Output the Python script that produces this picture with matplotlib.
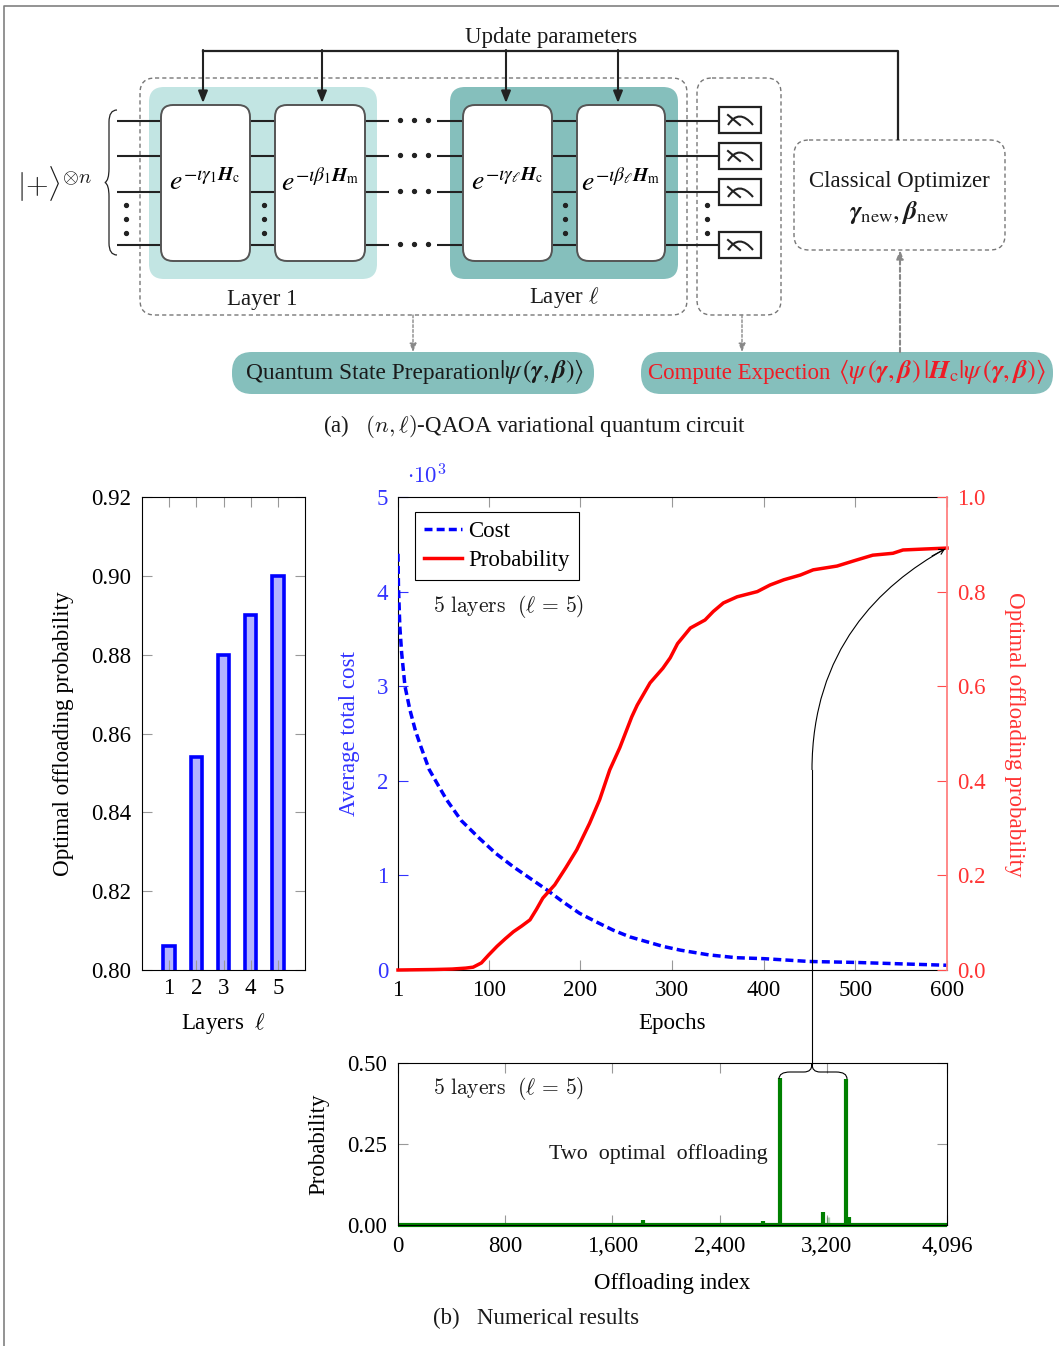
import matplotlib
matplotlib.use("Agg")
import matplotlib.pyplot as plt
from matplotlib.patches import FancyBboxPatch, PathPatch, Rectangle
from matplotlib.path import Path

plt.rcParams["font.family"] = ["Liberation Serif", "DejaVu Serif"]
plt.rcParams["mathtext.fontset"] = "cm"

W, H = 1059, 1346
FS = 16.5
TEAL_LIGHT = "#c2e5e3"
TEAL_DARK = "#85bfbc"
DARK = "#222222"
INK = "#1a1a1a"
DASH_GRAY = "#777777"
TICK_GRAY = "#999999"

# --- Data ---
layers = [1, 2, 3, 4, 5]
layer_prob = [0.806, 0.854, 0.880, 0.890, 0.900]

cost_epochs = [1, 1.5, 3, 5, 8.6, 14, 20, 26, 35, 45, 54, 70, 90, 108, 127, 145, 163, 181, 199, 217, 236,
               254, 272, 290, 309, 340, 370, 400, 450, 500, 550, 600]
cost_values = [4.40, 4.05, 3.63, 3.35, 3.00, 2.75, 2.53, 2.36, 2.12, 1.95, 1.80, 1.58, 1.39, 1.23, 1.09,
               0.97, 0.85, 0.72, 0.60, 0.51, 0.42, 0.35, 0.30, 0.25, 0.21, 0.16, 0.13, 0.12, 0.09, 0.08,
               0.065, 0.05]

prob_epochs = [1, 40, 60, 75, 83, 92, 100, 109, 118, 127, 136, 145, 152, 159, 165, 172, 184, 196, 203, 210,
               221, 232, 243, 256, 262, 276, 290, 298, 306, 320, 336, 345, 356, 371, 393, 407, 422, 440,
               454, 480, 500, 519, 541, 552, 575, 600]
prob_values = [0.0, 0.001, 0.002, 0.004, 0.006, 0.015, 0.032, 0.050, 0.066, 0.081, 0.093, 0.106, 0.128,
               0.152, 0.165, 0.180, 0.216, 0.254, 0.282, 0.310, 0.360, 0.423, 0.470, 0.535, 0.560, 0.607,
               0.638, 0.660, 0.690, 0.723, 0.740, 0.758, 0.776, 0.789, 0.800, 0.814, 0.825, 0.835, 0.846,
               0.854, 0.866, 0.877, 0.881, 0.888, 0.890, 0.892]

offload_index = [1825, 2723, 2850, 3170, 3339, 3368]
offload_prob = [0.015, 0.012, 0.455, 0.040, 0.450, 0.025]
offload_faint_index = [3205]
offload_faint_prob = [0.025]

bar_yticks = [0.80, 0.82, 0.84, 0.86, 0.88, 0.90, 0.92]
main_xticks = [1, 100, 200, 300, 400, 500, 600]
cost_yticks = [0, 1, 2, 3, 4, 5]
prob_yticks = [0.0, 0.2, 0.4, 0.6, 0.8, 1.0]
offload_xticks = [0, 800, 1600, 2400, 3200, 4096]
offload_xlabels = ["0", "800", "1,600", "2,400", "3,200", "4,096"]
offload_yticks = [0.0, 0.25, 0.5]


def px_axes(fig, x0, y0, x1, y1):
    """Axes from pixel corners, y counted from the top of the image."""
    return fig.add_axes([x0 / W, 1 - y1 / H, (x1 - x0) / W, (y1 - y0) / H])


def label_at(axis, ax, px, py, box):
    x0, y0, x1, y1 = box
    axis.label.set_verticalalignment("center")
    axis.set_label_coords((px - x0) / (x1 - x0), (y1 - py) / (y1 - y0), transform=ax.transAxes)


def round_box(ov, x0, y0, x1, y1, r, **kw):
    ov.add_patch(FancyBboxPatch((x0, y0), x1 - x0, y1 - y0,
                                boxstyle=f"round,pad=0,rounding_size={r}", **kw))


def draw_bars(fig):
    box = (142, 497, 305, 970)
    ax = px_axes(fig, *box)
    ax.bar(layers, layer_prob, width=0.42, color="#b3b3ff", edgecolor="#0000ff", linewidth=2.6)
    ax.set_xlim(0, 6)
    ax.set_ylim(0.80, 0.92)
    ax.set_xticks(layers)
    ax.set_yticks(bar_yticks)
    ax.set_yticklabels([f"{v:.2f}" for v in bar_yticks])
    ax.tick_params(direction="in", length=7, width=0.8, color=TICK_GRAY, top=True, right=True,
                   labelsize=FS, pad=8)
    ax.tick_params(axis="x", length=7, pad=6)
    ax.set_xlabel(r"Layers  $\ell$", fontsize=FS)
    ax.set_ylabel("Optimal offloading probability", fontsize=16.7)
    label_at(ax.xaxis, ax, 223, 1024, box)
    label_at(ax.yaxis, ax, 64, 734, box)


def draw_main(fig):
    box = (398, 497, 947, 970)
    ax = px_axes(fig, *box)
    blue = "#0000ff"
    red = "#ff0000"
    line1, = ax.plot(cost_epochs, cost_values, color=blue, lw=2.5, dashes=(2.3, 1.2), label="Cost")
    ax.set_xlim(1, 600)
    ax.set_ylim(0, 5)
    ax.set_xticks(main_xticks)
    ax.set_yticks(cost_yticks)
    ax.tick_params(axis="x", direction="in", length=7, width=0.8, color=TICK_GRAY, top=True,
                   labelsize=FS, pad=7)
    ax.tick_params(axis="y", direction="in", length=7, width=0.8, color="#3333ff", labelcolor="#3333ff",
                   labelsize=FS, pad=7)
    ax.set_xlabel("Epochs", fontsize=FS)
    ax.set_ylabel("Average total cost", fontsize=FS, color="#3333ff")
    label_at(ax.xaxis, ax, 672, 1024, box)
    label_at(ax.yaxis, ax, 349, 734, box)
    ax.spines["right"].set_visible(False)

    tw = ax.twinx()
    line2, = tw.plot(prob_epochs, prob_values, color=red, lw=2.5, label="Probability", clip_on=False)
    tw.set_ylim(0, 1)
    tw.set_yticks(prob_yticks)
    tw.set_yticklabels([f"{v:.1f}" for v in prob_yticks])
    tw.tick_params(axis="y", direction="in", length=7, width=0.8, color="#ff4d4d", labelcolor="#ff3333",
                   labelsize=FS, pad=7)
    tw.set_ylabel("Optimal offloading probability", fontsize=16.7, color="#ff3333", rotation=270)
    label_at(tw.yaxis, tw, 1014, 734, box)
    for side in ["left", "top", "bottom"]:
        tw.spines[side].set_visible(False)
    tw.spines["right"].set_color("#ff8080")
    tw.spines["right"].set_linewidth(1.3)
    line1.set_zorder(3)
    leg = tw.legend(handles=[line1, line2], loc="upper left", bbox_to_anchor=((415 - 398) / 549, 1 - (512 - 497) / 473),
                    borderaxespad=0, fontsize=FS, fancybox=False, framealpha=1, edgecolor="black",
                    handlelength=1.65, handletextpad=0.3, labelspacing=0.35, borderpad=0.38)
    leg.get_frame().set_linewidth(0.8)


def draw_offload(fig):
    box = (398, 1063, 947, 1225)
    ax = px_axes(fig, *box)
    green = "#008000"
    ax.vlines(offload_faint_index, 0, offload_faint_prob, color=green, alpha=0.3, lw=2.4)
    ax.vlines(offload_index, 0, offload_prob, color=green, lw=3)
    ax.plot([0, 4096], [0, 0], color=green, lw=3, clip_on=False, solid_capstyle="butt")
    ax.set_xlim(0, 4096)
    ax.set_ylim(0, 0.5)
    ax.set_xticks(offload_xticks)
    ax.set_xticklabels(offload_xlabels)
    ax.set_yticks(offload_yticks)
    ax.set_yticklabels([f"{v:.2f}" for v in offload_yticks])
    ax.tick_params(direction="in", length=7, width=0.8, color=TICK_GRAY, top=True, right=True,
                   labelsize=FS, pad=8)
    ax.tick_params(axis="x", pad=8)
    ax.set_xlabel("Offloading index", fontsize=FS)
    ax.set_ylabel("Probability", fontsize=FS)
    label_at(ax.xaxis, ax, 672, 1284, box)
    label_at(ax.yaxis, ax, 319, 1144, box)


def draw_meter(ov, x0, y0):
    ov.add_patch(Rectangle((x0, y0), 42, 26, fc="white", ec=DARK, lw=1.6))
    arc = Path([(x0 + 9, y0 + 18), (x0 + 20, y0 + 1), (x0 + 34, y0 + 18)],
               [Path.MOVETO, Path.CURVE3, Path.CURVE3])
    ov.add_patch(PathPatch(arc, fc="none", ec=DARK, lw=1.5))
    ov.plot([x0 + 9, x0 + 21], [y0 + 8, y0 + 18], color=DARK, lw=1.5)


def draw_brace_v(ov, x, y0, y1, w):
    ym = (y0 + y1) / 2
    verts = [(x + w, y0), (x + w / 3, y0), (x + w / 3, y0 + 12), (x + w / 3, ym - 14), (x + w / 3, ym - 2), (x, ym),
             (x + w / 3, ym + 2), (x + w / 3, ym + 14), (x + w / 3, y1 - 12), (x + w / 3, y1), (x + w, y1)]
    codes = [Path.MOVETO, Path.CURVE3, Path.CURVE3, Path.LINETO, Path.CURVE3, Path.CURVE3,
             Path.CURVE3, Path.CURVE3, Path.LINETO, Path.CURVE3, Path.CURVE3]
    ov.add_patch(PathPatch(Path(verts, codes), fc="none", ec=DARK, lw=0.9))


def draw_diagram(ov):
    # page frame
    ov.plot([4, 4, W], [H, 6, 6], color="#808080", lw=1.2)

    round_box(ov, 149, 87, 377, 279, 15, fc=TEAL_LIGHT, ec="none")
    round_box(ov, 450, 87, 678, 279, 15, fc=TEAL_DARK, ec="none")
    dash = dict(fc="none", ec=DASH_GRAY, lw=1.0, ls=(0, (3, 2.2)))
    round_box(ov, 140, 78, 687, 315, 15, **dash)
    round_box(ov, 697, 78, 781, 315, 15, **dash)
    round_box(ov, 794, 140, 1005, 250, 15, **dash)

    wires = [121, 156, 192, 245]
    for y in wires:
        for x0, x1 in [(117, 161), (250, 275), (365, 389), (437, 463), (552, 577), (665, 719)]:
            ov.plot([x0, x1], [y, y], color=DARK, lw=1.5, solid_capstyle="butt", zorder=2)
        for x in [400, 414, 428]:
            ov.plot(x, y - 1, "o", color=DARK, ms=2.8)
    for x in [126, 264, 565, 707]:
        for y in [205, 219, 233]:
            ov.plot(x, y, "o", color=DARK, ms=2.8)

    for x0, x1 in [(161, 250), (275, 365), (463, 552), (577, 665)]:
        round_box(ov, x0, 105, x1, 261, 12, fc="white", ec="#555555", lw=1.4, zorder=3)

    for y in [107, 143, 179, 232]:
        draw_meter(ov, 719, y)

    # feedback line and arrows
    ov.plot([898, 898, 203], [139, 51, 51], color=DARK, lw=1.6, zorder=4)
    for x in [203, 322, 506, 618]:
        ov.annotate("", xy=(x, 103), xytext=(x, 50), zorder=5,
                    arrowprops=dict(arrowstyle="-|>,head_length=0.7,head_width=0.28", color=DARK, lw=1.5,
                                    shrinkA=0, shrinkB=0))
    for x0, y0, x1, y1, lw in [(413, 315, 413, 352, 1.0), (742, 315, 742, 352, 1.0), (900, 352, 900, 250, 1.5)]:
        ov.annotate("", xy=(x1, y1), xytext=(x0, y0),
                    arrowprops=dict(arrowstyle="-|>,head_length=0.5,head_width=0.2", color="#888888", lw=lw,
                                    ls=(0, (2, 1.5)), shrinkA=0, shrinkB=0))

    round_box(ov, 232, 352, 594, 394, 20, fc=TEAL_DARK, ec="none")
    round_box(ov, 641, 352, 1053, 394, 20, fc=TEAL_DARK, ec="none")

    draw_brace_v(ov, 105, 110, 255, 12)

    txt = dict(ha="center", va="center", fontsize=FS, color=INK)
    ov.text(551, 37, "Update parameters", **txt)
    ov.text(262, 299, "Layer 1", **txt)
    ov.text(564, 298, r"Layer $\ell$", **txt)
    ov.text(55, 184, r"$|{+}\rangle^{\otimes n}$", ha="center", va="center", fontsize=21, color=INK)
    mfs = 20
    for x, s in [(205, r"$e^{-\iota\gamma_1 \mathbfit{H}_{\mathrm{c}}}$"),
                 (320, r"$e^{-\iota\beta_1 \mathbfit{H}_{\mathrm{m}}}$"),
                 (507, r"$e^{-\iota\gamma_\ell \mathbfit{H}_{\mathrm{c}}}$"),
                 (621, r"$e^{-\iota\beta_\ell \mathbfit{H}_{\mathrm{m}}}$")]:
        ov.text(x, 183, s, ha="center", va="center", fontsize=mfs, math_fontfamily="stix", zorder=6)
    ov.text(899, 182, "Classical Optimizer", **txt)
    ov.text(899, 212, r"$\mathbfit{\gamma}_{\mathrm{new}},\mathbfit{\beta}_{\mathrm{new}}$", ha="center", va="center",
            fontsize=19, math_fontfamily="stix", color=INK)

    ov.text(246, 374, "Quantum State Preparation", ha="left", va="center", fontsize=FS + 0.3, color=INK)
    ov.text(499, 372, r"$|\psi\,(\mathbfit{\gamma},\mathbfit{\beta})\rangle$", ha="left", va="center",
            fontsize=18.5, math_fontfamily="stix", color=INK)
    ov.text(648, 374, "Compute Expection", ha="left", va="center", fontsize=FS, color="#ee1c25")
    ov.text(838, 372, r"$\langle\psi\,(\mathbfit{\gamma},\mathbfit{\beta})\,|\mathbfit{H}_{\mathrm{c}}"
            r"|\psi\,(\mathbfit{\gamma},\mathbfit{\beta})\rangle$",
            ha="left", va="center", fontsize=19, math_fontfamily="stix", color="#ee1c25")
    ov.text(535, 427, r"(a)   $(n,\ell)$-QAOA variational quantum circuit", ha="center", va="center", fontsize=FS,
            color=INK)


def draw_annotations(ov):
    ov.text(407, 476, r"$\cdot 10^3$", ha="left", va="center", fontsize=FS, color="#3333ff")
    lay = r"$\mathrm{5\ layers\ \ (}\ell\,=\,5\mathrm{)}$"
    ov.text(433, 606, lay, ha="left", va="center", fontsize=15.5, color=INK)
    ov.text(433, 1089, lay, ha="left", va="center", fontsize=15.5, color=INK)
    ov.text(549, 1154, "Two  optimal  offloading", ha="left", va="center", fontsize=15.8, color=INK)
    ov.text(433, 1318, "(b)   Numerical results", ha="left", va="center", fontsize=FS, color=INK)

    # brace over the two peaks, curve up to the end of the probability line
    brace = Path([(779, 1079), (779, 1072), (790, 1072), (804, 1072), (812, 1072), (812, 1064),
                  (812, 1072), (820, 1072), (836, 1072), (847, 1072), (847, 1079)],
                 [Path.MOVETO, Path.CURVE3, Path.CURVE3, Path.LINETO, Path.CURVE3, Path.CURVE3,
                  Path.CURVE3, Path.CURVE3, Path.LINETO, Path.CURVE3, Path.CURVE3])
    ov.add_patch(PathPatch(brace, fc="none", ec="black", lw=0.8))
    ov.plot([812, 812], [1064, 770], color="black", lw=0.8)
    curve = Path([(812, 770), (812, 650), (880, 585), (945, 549)],
                 [Path.MOVETO, Path.CURVE4, Path.CURVE4, Path.CURVE4])
    ov.add_patch(PathPatch(curve, fc="none", ec="black", lw=0.8))
    ov.annotate("", xy=(945, 549), xytext=(932, 556),
                arrowprops=dict(arrowstyle="->,head_length=0.35,head_width=0.2", color="black", lw=0.8,
                                shrinkA=0, shrinkB=0))


def main():
    fig = plt.figure(figsize=(W / 100, H / 100), dpi=100)

    draw_bars(fig)
    draw_main(fig)
    draw_offload(fig)

    ov = fig.add_axes([0, 0, 1, 1], zorder=10)
    ov.set_xlim(0, W)
    ov.set_ylim(H, 0)
    ov.axis("off")
    ov.patch.set_alpha(0)
    draw_diagram(ov)
    draw_annotations(ov)

    fig.savefig("out.png", dpi=100)


if __name__ == "__main__":
    main()
